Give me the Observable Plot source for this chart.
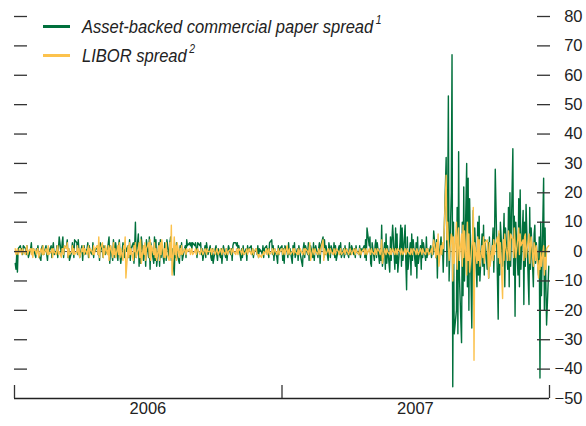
<!DOCTYPE html>
<html>
<head>
<meta charset="utf-8">
<script src="https://cdn.jsdelivr.net/npm/d3@7"></script>
<script src="https://cdn.jsdelivr.net/npm/@observablehq/plot@0.6"></script>
<style>
  html, body { margin: 0; padding: 0; background: #fff; }
  #wrap { position: relative; width: 586px; height: 426px; }
  #legend { position: absolute; left: 43px; top: 12px; font-family: "Liberation Sans", Arial, sans-serif; font-style: italic; font-size: 19px; color: #222; }
  #legend .item { display: flex; align-items: center; height: 29px; white-space: nowrap; }
  #legend .sw { display: inline-block; width: 27px; height: 3px; margin-right: 12px; flex: none; }
  #legend .txt { display: inline-block; transform: scaleX(0.87); transform-origin: 0 50%; }
  #legend sup { font-size: 12px; position: relative; top: -2px; margin-left: 3px; }
</style>
</head>
<body>
<div id="wrap">
  <div id="chart"></div>
  <div id="legend">
    <div class="item"><span class="sw" style="background:#00703c"></span><span class="txt">Asset-backed commercial paper spread<sup>1</sup></span></div>
    <div class="item"><span class="sw" style="background:#fcc24d"></span><span class="txt">LIBOR spread<sup>2</sup></span></div>
  </div>
</div>
<script>
// Daily changes (basis points), business days
const abcp2006 = [
  -4,-6,-1,-7,1,2,0,1,-1,2,  1,-1,2,0,-2,1,3,-1,0,1,  -2,1,0,2,-1,-3,1,2,0,-1,
  2,-1,-3,1,0,2,-2,1,3,-1,  0,2,-2,1,5,-1,3,5,-2,1,  2,4,-2,1,-3,0,3,1,-2,4,
  3,-1,4,0,-2,2,-3,1,2,-1,  1,3,-2,2,0,-1,3,-2,1,0,  2,-1,1,-3,3,0,-2,2,1,-1,
  1,3,5,-4,2,-3,4,1,-2,3,  -3,2,4,-1,-4,3,1,-2,3,0,  2,-2,4,-3,1,3,-4,2,10,-2,
  6,-5,3,-4,5,-3,2,1,-5,4,  -2,5,-6,3,1,-4,5,-3,4,-5,  3,-5,4,-2,2,-4,3,1,-3,4,
  -2,3,5,-3,1,-8,2,-2,3,-1,  -4,2,-1,3,-3,1,2,-2,4,2,  3,2,3,1,3,2,3,1,-2,3,
  2,3,-1,1,-3,2,-2,3,1,-1,  2,-2,-3,1,-4,1,2,-1,-3,1,  -2,1,-4,-1,2,-2,1,-3,0,2,
  -1,1,-3,2,3,3,2,3,1,2,  -3,1,-2,2,-1,1,-3,2,0,1,  2,-1,1,-2,0,1,-1,2,-2,1,
  0,-1,2,-2,1,2,-1,1,-2,3,  4,-1,2,-3,1,-2,-4,2,-1,1
];
const abcp2007 = [
  2,-3,1,-4,2,0,-2,3,-1,1,  -4,2,-1,3,-2,1,-3,2,0,-1,  -5,1,3,-2,2,-1,3,-3,1,2,
  -2,3,-3,1,2,-2,1,3,-4,2,  5,-2,4,-1,2,-3,3,1,-2,2,  -1,3,-2,2,-3,1,2,-1,3,-2,
  1,-2,2,-1,1,-2,3,-1,0,2,  -1,1,-2,2,0,-1,2,-2,1,0,  2,-2,4,-3,8,2,5,-4,-5,3,
  -3,2,4,-2,3,-4,1,-3,9,-5,  3,-6,6,-4,2,-7,5,-3,4,9,  -6,8,-4,6,-7,3,9,-5,8,-3,
  9,-4,-13,5,-6,3,-8,6,-3,4,  -5,3,-9,5,-4,2,-6,4,-2,3,  -3,5,-2,1,-1,2,-2,1,-1,7,
  -2,4,-9,3,-3,5,-1,2,-7,4,  32,-5,12,53,-10,20,67,-46,10,-28,  -20,15,-28,34,-8,-31,10,-15,22,-10,
  30,-12,25,-20,18,-26,5,14,-18,8,  -12,10,-8,12,-10,6,-5,9,-8,4,  -6,3,-9,5,-4,2,8,-7,4,28,
  -10,-23,6,-8,10,-5,3,13,-12,8,  -6,15,-12,20,-5,35,-8,12,-22,10,  -8,18,-12,21,-6,14,-18,10,-5,16,
  -10,-18,15,-6,8,-12,6,9,-4,3,  -8,5,-43,10,-15,25,-20,8,-10,-25,-5
];
const libor2006 = [
  1,-1,0,1,-1,1,0,-1,1,0,  -1,1,2,-1,0,1,-1,1,-2,1,  0,-1,1,1,-2,1,0,-1,2,-1,
  1,0,-1,2,-1,0,1,-2,1,0,  -1,1,2,-1,0,-2,1,1,-1,2,  1,3,-2,1,-1,0,2,-1,1,-1,
  0,2,-1,1,-2,1,0,2,-1,1,  -1,1,2,-2,1,0,-1,2,-1,1,  2,-1,5,-2,1,3,-2,1,-1,2,
  -1,2,-3,1,2,-2,3,-1,1,-2,  2,-1,3,-2,1,-3,2,1,5,-9,  2,-2,3,-1,1,-3,2,0,3,-2,
  1,3,-2,4,-4,2,-1,3,-3,1,  3,-2,4,-3,2,-1,3,-2,1,-3,  2,-3,3,-1,4,-2,1,-2,3,-1,
  -3,3,-2,9,-8,5,-1,2,-3,3,  -2,1,-1,2,-1,1,0,-1,1,0,  1,-1,0,1,-1,0,1,-1,0,1,
  -1,0,1,0,-1,1,0,-1,1,0,  0,1,-1,0,1,-1,0,1,0,-1,  1,0,-1,1,0,-1,1,0,-1,0,
  1,-1,0,1,0,-1,1,0,-1,1,  0,-1,1,0,-1,0,1,-1,0,1,  -1,0,1,-1,0,1,-1,-1,-2,-1,
  -2,-1,-1,0,-1,1,-1,0,1,-1,  0,1,-1,0,1,-1,0,1,-1,0
];
const libor2007 = [
  1,-1,0,1,-1,2,-1,0,1,-1,  0,1,-1,1,0,-1,1,-1,0,1,  -1,0,1,-1,1,0,-1,1,3,-3,
  1,0,-1,1,0,-1,1,0,-1,1,  4,-3,1,0,-1,1,0,-1,1,0,  -1,1,0,-1,1,0,-1,0,1,-1,
  0,1,-1,0,1,-1,0,1,0,-1,  1,0,-1,1,0,-1,1,0,-1,0,  1,-1,0,1,-1,1,0,-1,1,0,
  -1,1,0,-1,1,0,-1,1,4,-4,  1,0,-1,1,0,-1,1,-1,0,1,  -1,1,0,-1,1,0,-1,1,0,-1,
  1,-1,0,1,0,-1,1,0,-1,1,  0,-1,1,0,-1,1,0,-1,1,0,  -1,1,0,1,-1,0,1,-1,2,4,
  -2,3,-1,6,-5,2,-1,3,1,5,  26,4,10,2,-3,6,5,-10,5,-4,  10,-6,4,8,-3,6,-5,9,-2,7,
  -8,10,-3,6,-7,2,4,15,-37,3,  -4,5,-3,4,-5,2,-2,5,-4,3,  4,-2,-9,3,-5,2,-3,4,-1,2,
  5,-2,7,-4,3,-16,4,-3,6,2,  -3,7,2,-3,6,4,-2,8,3,-2,  5,8,-1,6,2,4,-3,5,6,-2,
  4,6,-4,2,5,-5,3,1,-3,2,  -9,-3,-6,0,-5,2,-8,-2,-6,1,2
];
const yTickValues = [80, 70, 60, 50, 40, 30, 20, 10, 0, -10, -20, -30, -40];
const yLabelValues = [80, 70, 60, 50, 40, 30, 20, 10, 0, -10, -20, -30, -40, -50];
const yDomain = [-50, 80];
const yearBounds = ["2006-01-01", "2007-01-01", "2008-01-01"];
const yearLabels = ["2006", "2007"];

const green = "#00703c";
const yellow = "#fcc24d";

function businessDays(year) {
  return d3.utcDays(new Date(Date.UTC(year, 0, 1)), new Date(Date.UTC(year + 1, 0, 1)))
    .filter(d => d.getUTCDay() !== 0 && d.getUTCDay() !== 6);
}
function toSeries(year, values) {
  const days = businessDays(year);
  const n = Math.min(days.length, values.length);
  return d3.range(n).map(i => ({date: days[i], value: values[i]}));
}
const abcp = [...toSeries(2006, abcp2006), ...toSeries(2007, abcp2007)];
const libor = [...toSeries(2006, libor2006), ...toSeries(2007, libor2007)];

const boundDates = yearBounds.map(s => new Date(s + "T00:00:00Z"));
const labelDates = yearLabels.map(y => new Date(Date.UTC(+y, 6, 2)));

const font = '"Liberation Sans", Arial, sans-serif';

const chart = Plot.plot({
  width: 586,
  height: 426,
  marginTop: 16,
  marginBottom: 28,
  marginLeft: 14,
  marginRight: 37,
  style: {fontFamily: font, fontSize: "16.5px", color: "#222", background: "#fff"},
  x: {type: "utc", domain: [boundDates[0], boundDates[2]]},
  y: {domain: yDomain},
  marks: [
    Plot.ruleY([0], {stroke: "#333", strokeWidth: 0.9}),
    Plot.lineY(abcp, {x: "date", y: "value", stroke: green, strokeWidth: 1.4}),
    Plot.lineY(libor, {x: "date", y: "value", stroke: yellow, strokeWidth: 1.4}),
    Plot.ruleY([yDomain[0]], {stroke: "#222", strokeWidth: 1.3}),
    Plot.axisY(yTickValues, {anchor: "left", tickSize: -13, tickFormat: () => "", stroke: "#333", strokeWidth: 1.3, label: null}),
    Plot.axisY(yTickValues, {anchor: "right", tickSize: -13, tickFormat: () => "", stroke: "#333", strokeWidth: 1.3, label: null}),
    Plot.axisY(yLabelValues, {anchor: "right", tickSize: 0, tickPadding: 33, textAnchor: "end", tickFormat: d => d3.format("")(d).replace("-", "\u2013"), fill: "#222", label: null}),
    Plot.axisX(boundDates, {anchor: "bottom", tickSize: -13, tickFormat: () => "", stroke: "#333", strokeWidth: 1.3, label: null}),
    Plot.axisX(labelDates, {anchor: "bottom", tickSize: 0, tickPadding: 4, tickFormat: d3.utcFormat("%Y"), fill: "#222", label: null})
  ]
});
document.getElementById("chart").appendChild(chart);
</script>
</body>
</html>
